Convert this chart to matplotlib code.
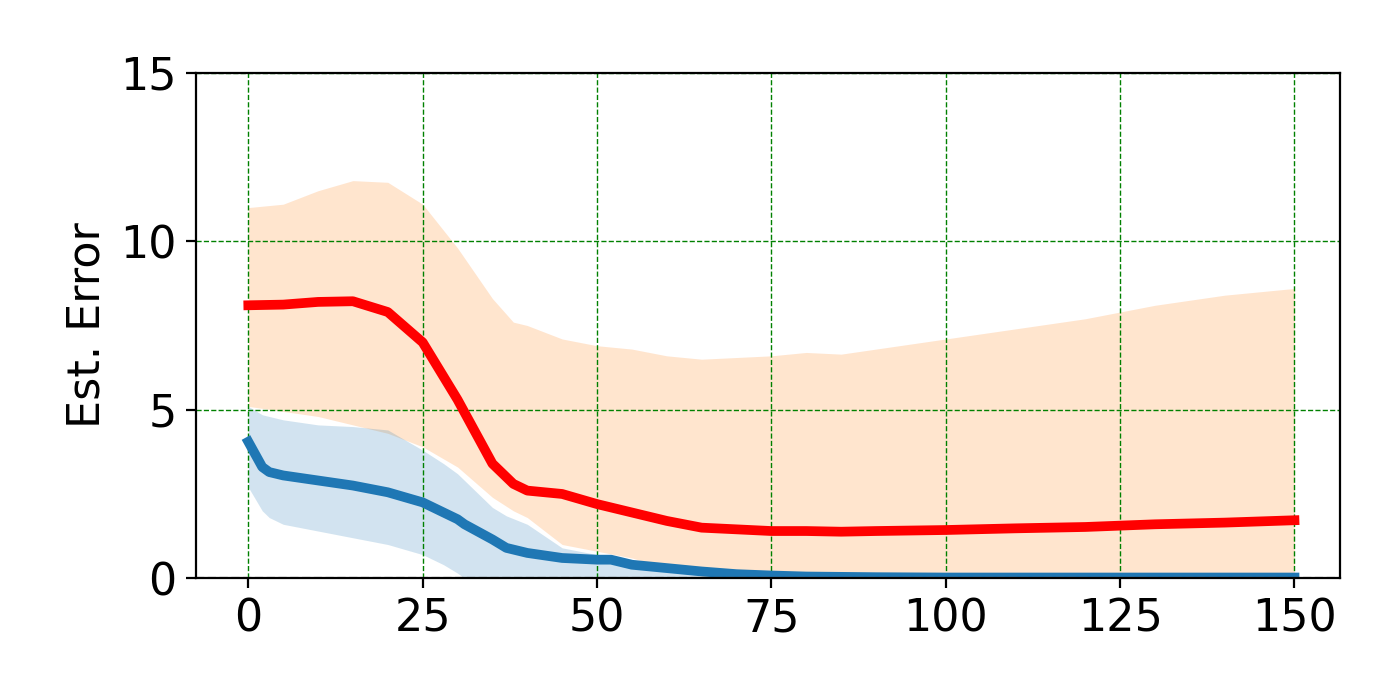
import numpy as np
import matplotlib.pyplot as plt

x_red = [0, 5, 10, 15, 20, 25, 30, 35, 38, 40, 45, 50, 55, 60, 65, 70, 75, 80, 85, 90, 100, 110, 120, 130, 140, 150]
red_mean = [8.1, 8.12, 8.2, 8.22, 7.9, 7.0, 5.3, 3.4, 2.8, 2.6, 2.5, 2.2, 1.95, 1.7, 1.5, 1.45, 1.4, 1.4, 1.38, 1.4, 1.43, 1.48, 1.52, 1.6, 1.65, 1.72]
red_upper = [11.0, 11.1, 11.5, 11.8, 11.75, 11.1, 9.8, 8.3, 7.6, 7.5, 7.1, 6.9, 6.8, 6.6, 6.5, 6.55, 6.6, 6.7, 6.65, 6.8, 7.1, 7.4, 7.7, 8.1, 8.4, 8.6]
red_lower = [5.1, 4.95, 4.8, 4.55, 4.3, 3.9, 3.3, 2.4, 2.0, 1.8, 1.0, 0.8, 0.6, 0.3, 0.05, 0, 0, 0, 0, 0, 0, 0, 0, 0, 0, 0]

x_blue = [0, 2, 3, 5, 10, 15, 20, 25, 28, 30, 31, 35, 37, 40, 45, 50, 52, 55, 60, 65, 70, 75, 80, 90, 100, 150]
blue_mean = [4.05, 3.3, 3.15, 3.05, 2.9, 2.75, 2.55, 2.25, 1.95, 1.75, 1.6, 1.15, 0.9, 0.75, 0.6, 0.55, 0.55, 0.4, 0.3, 0.2, 0.12, 0.08, 0.05, 0.03, 0.02, 0.02]
blue_upper = [5.1, 4.85, 4.8, 4.7, 4.55, 4.5, 4.4, 3.8, 3.4, 3.1, 2.9, 2.1, 1.85, 1.6, 0.9, 0.7, 0.65, 0.5, 0.35, 0.2, 0.1, 0.07, 0.05, 0.03, 0.02, 0.02]
blue_lower = [2.7, 2.0, 1.8, 1.6, 1.4, 1.2, 1.0, 0.7, 0.4, 0.15, 0, 0, 0, 0, 0, 0, 0, 0, 0, 0, 0, 0, 0, 0, 0, 0]

fig = plt.figure(figsize=(7, 3.5), dpi=200)
ax = fig.add_axes([0.14, 0.174, 0.817, 0.722])

ax.fill_between(x_red, red_lower, red_upper, color='C1', alpha=0.2, linewidth=0)
ax.fill_between(x_blue, blue_lower, blue_upper, color='C0', alpha=0.2, linewidth=0)
ax.plot(x_red, red_mean, color='red', linewidth=3.5)
ax.plot(x_blue, blue_mean, color='C0', linewidth=3.5)
ax.axhline(0, color='gray', linestyle='--', linewidth=0.8)

ax.set_xlim(-7.5, 156.5)
ax.set_ylim(0, 15)
ax.set_xticks([0, 25, 50, 75, 100, 125, 150])
ax.set_yticks([0, 5, 10, 15])
ax.grid(True, color='green', linestyle='--', linewidth=0.5)
ax.tick_params(labelsize=16)
ax.set_ylabel("Est. Error", fontsize=16)

fig.savefig("out.png")
